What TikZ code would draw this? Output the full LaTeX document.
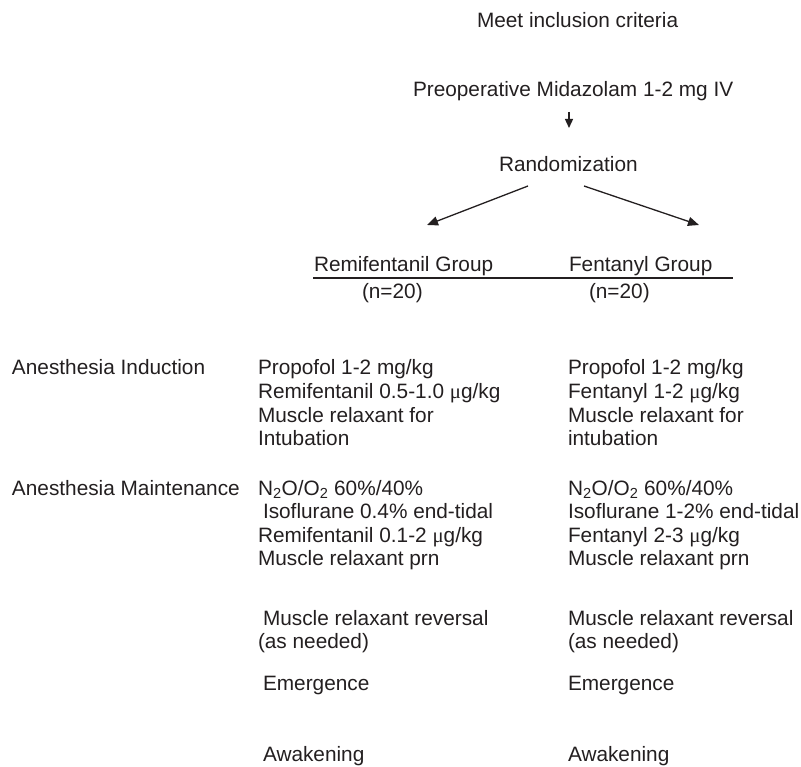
\documentclass[tikz,border=0pt]{standalone}
\usepackage{fontspec}
\setmainfont{Liberation Sans}
\newfontfamily\symfont{Liberation Serif}
\usetikzlibrary{arrows.meta}
\definecolor{ink}{RGB}{35,31,32}
\newcommand{\mug}{{\symfont μ}g/kg}
\tikzset{
  txt/.style={anchor=base west, inner sep=0pt, outer sep=0pt, text=ink, font=\fontsize{20.8}{24}\selectfont},
  conn/.style={draw=ink, line width=1.3pt, -{Triangle[length=11pt,width=9pt]}},
  smallconn/.style={draw=ink, line width=1.3pt, -{Triangle[length=9pt,width=8pt]}},
  rule/.style={draw=ink, line width=1.2pt}
}
\begin{document}
\begin{tikzpicture}[x=1pt,y=-1pt]
\useasboundingbox (0,0) rectangle (801,767);
% top flow
\node[txt] (meet) at (477,28) {Meet inclusion criteria};
\node[txt] (preop) at (413,97) {Preoperative Midazolam 1-2 mg IV};
\node[txt] (rand) at (499,172) {Randomization};
\coordinate (a1s) at (569,112);
\coordinate (a1e) at (569,128);
\draw[smallconn] (a1s) -- (a1e);
\coordinate (lls) at (528,186);
\coordinate (lle) at (427,225);
\coordinate (rrs) at (584,186);
\coordinate (rre) at (699,225);
\draw[conn] (lls) -- (lle);
\draw[conn] (rrs) -- (rre);
% groups
\node[txt] (remg) at (314,272) {Remifentanil Group};
\node[txt] (fentg) at (569,272) {Fentanyl Group};
\coordinate (ruleL) at (313,278);
\coordinate (ruleR) at (733,278);
\draw[rule] (ruleL) -- (ruleR);
\node[txt] (nl) at (362,299) {(n=20)};
\node[txt] (nr) at (589,299) {(n=20)};
% induction
\node[txt] (ind) at (12,375) {Anesthesia Induction};
\node[txt] (l1) at (258,375) {Propofol 1-2 mg/kg};
\node[txt] (l2) at (258,398.5) {Remifentanil 0.5-1.0 \mug};
\node[txt] (l3) at (258,422) {Muscle relaxant for};
\node[txt] (l4) at (258,445.5) {Intubation};
\node[txt] (r1) at (568,375) {Propofol 1-2 mg/kg};
\node[txt] (r2) at (568,398.5) {Fentanyl 1-2 \mug};
\node[txt] (r3) at (568,422) {Muscle relaxant for};
\node[txt] (r4) at (568,445.5) {intubation};
% maintenance
\node[txt] (maint) at (12,495) {Anesthesia Maintenance};
\node[txt] (l5) at (258,495) {N\textsubscript{2}O/O\textsubscript{2} 60\%/40\%};
\node[txt] (l6) at (263,518.5) {Isoflurane 0.4\% end-tidal};
\node[txt] (l7) at (258,542) {Remifentanil 0.1-2 \mug};
\node[txt] (l8) at (258,565.5) {Muscle relaxant prn};
\node[txt] (r5) at (568,495) {N\textsubscript{2}O/O\textsubscript{2} 60\%/40\%};
\node[txt] (r6) at (568,518.5) {Isoflurane 1-2\% end-tidal};
\node[txt] (r7) at (568,542) {Fentanyl 2-3 \mug};
\node[txt] (r8) at (568,565.5) {Muscle relaxant prn};
% reversal etc.
\node[txt] (l9) at (263,625) {Muscle relaxant reversal};
\node[txt] (l10) at (258,648.5) {(as needed)};
\node[txt] (r9) at (568,625) {Muscle relaxant reversal};
\node[txt] (r10) at (568,648.5) {(as needed)};
\node[txt] (l11) at (263,690) {Emergence};
\node[txt] (r11) at (568,690) {Emergence};
\node[txt] (l12) at (263,761) {Awakening};
\node[txt] (r12) at (568,761) {Awakening};
\end{tikzpicture}
\end{document}
